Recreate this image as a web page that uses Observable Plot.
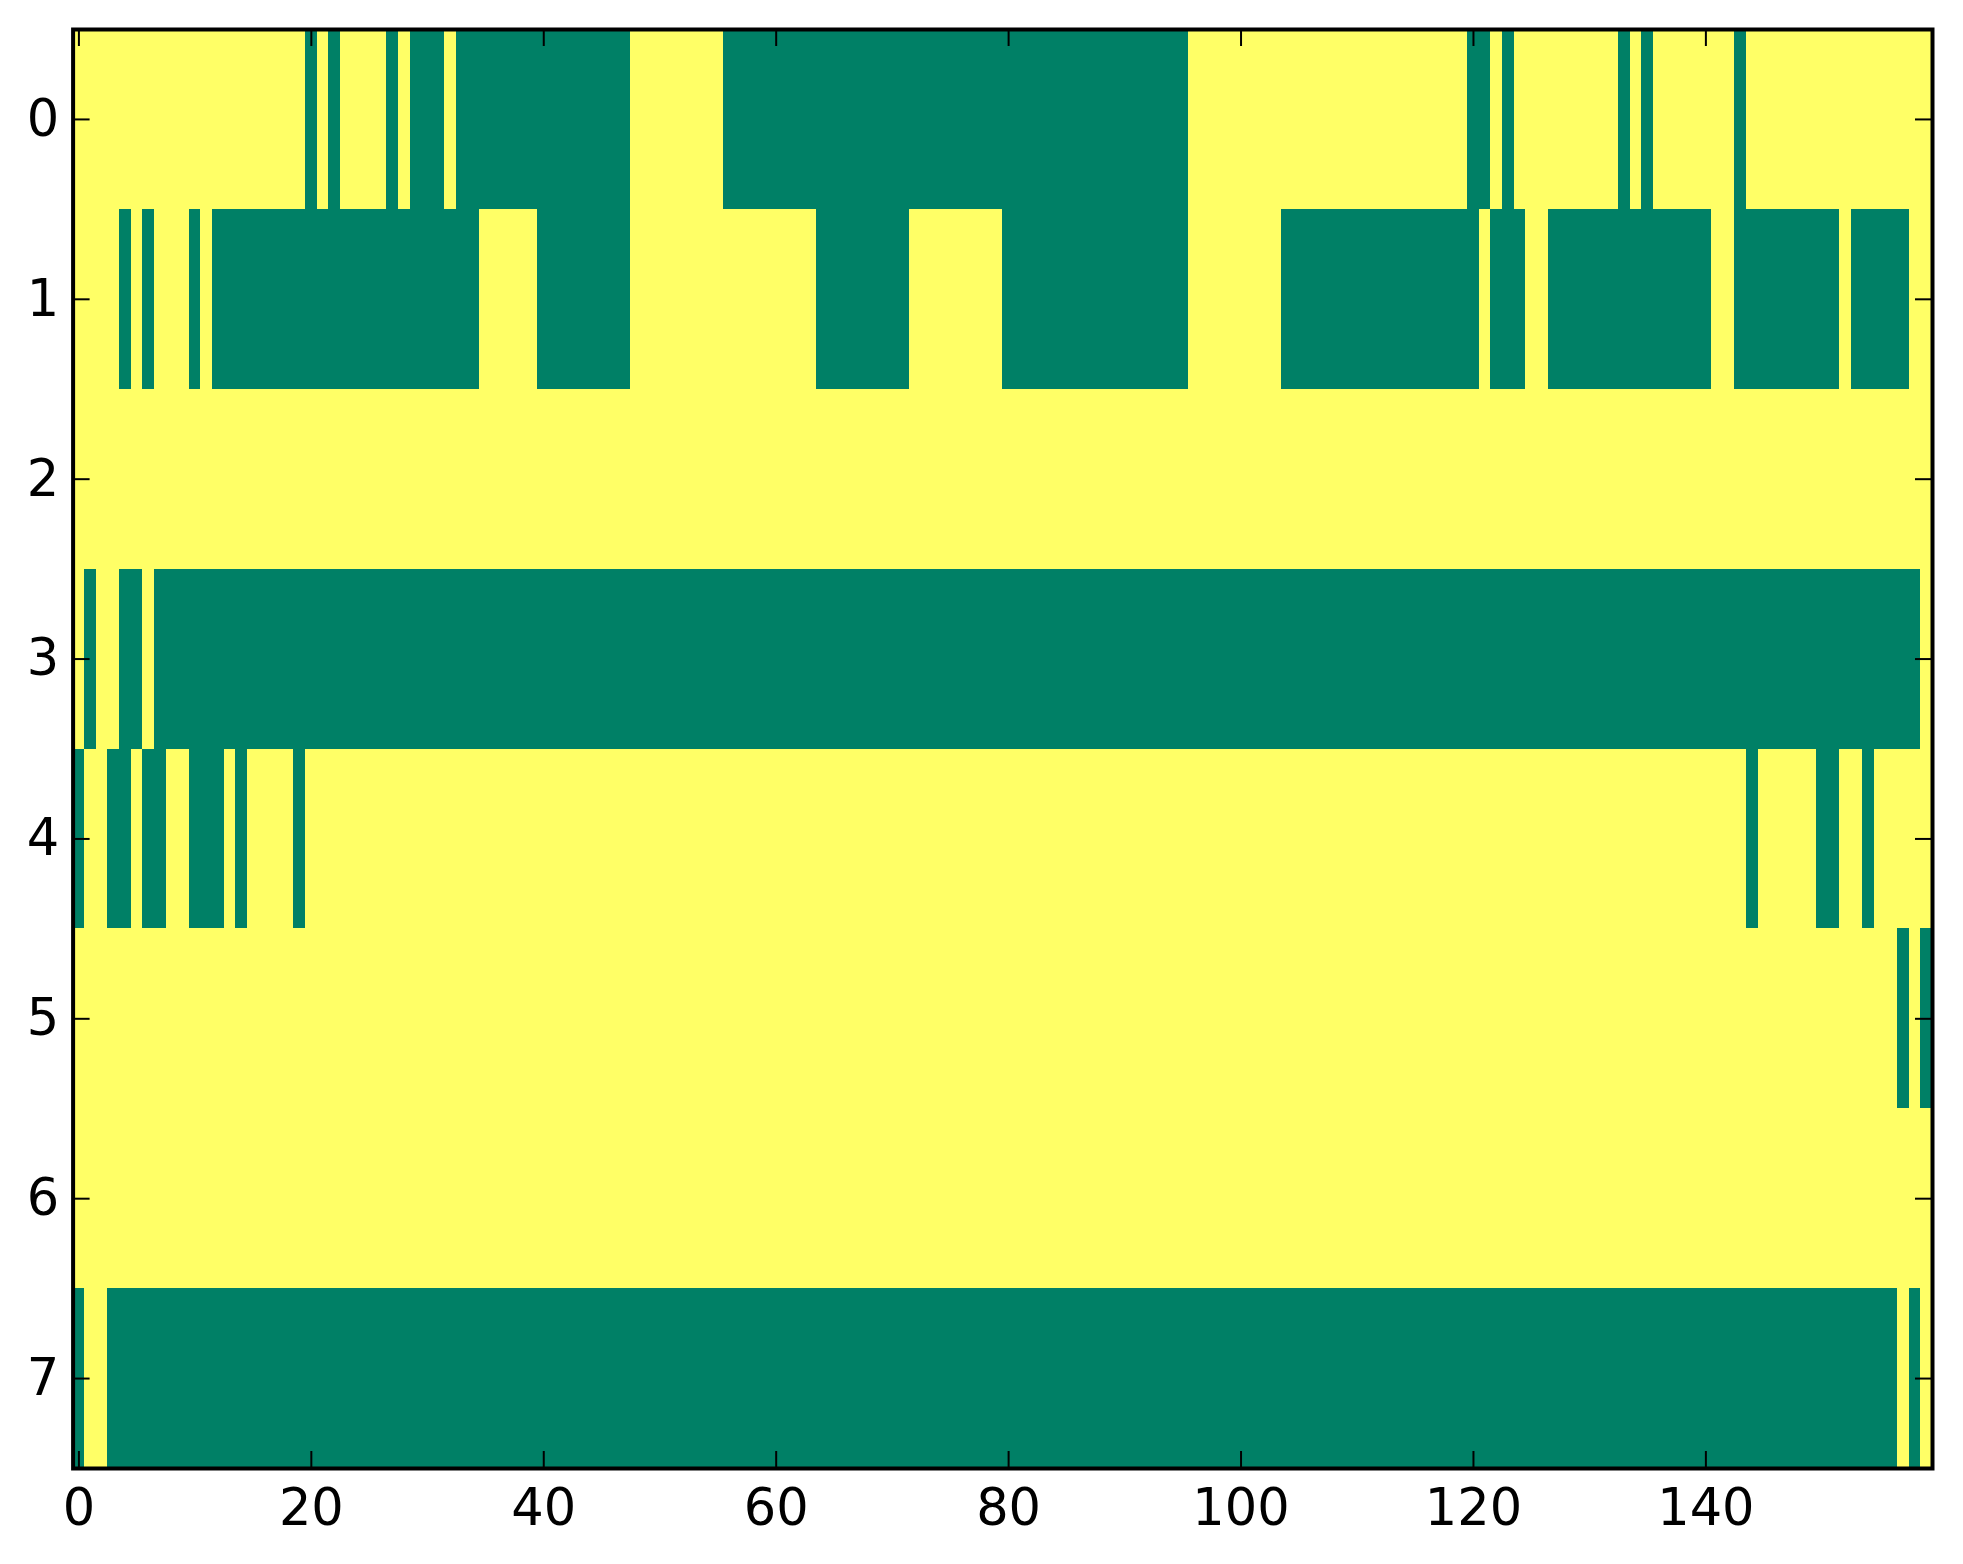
<!DOCTYPE html>
<html>
<head>
<meta charset="utf-8">
<script src="https://cdn.jsdelivr.net/npm/d3@7"></script>
<script src="https://cdn.jsdelivr.net/npm/@observablehq/plot@0.6"></script>
<style>
  html, body { margin: 0; padding: 0; background: #ffffff; }
  #chart { width: 1963px; height: 1564px; }
</style>
</head>
<body>
<div id="chart"></div>
<script>
// Matrix values: 8 rows x 160 columns, 1 = high (yellow), 0 = low (green).
// Each row written in groups of ten columns.
const row0 = "1111111111 1111111111 0101111010 0010000000 0000000011 1111110000 0000000000 0000000000 0000000000 0000001111 1111111111 1111111111 0010111111 1110101111 1110111111 1111111111";
const row1 = "1111010111 0100000000 0000000000 0000011111 0000000011 1111111111 1111000000 0011111111 0000000000 0000001111 1111000000 0000000000 0100011000 0000000000 0110000000 0010000011";
const row2 = "1111111111 1111111111 1111111111 1111111111 1111111111 1111111111 1111111111 1111111111 1111111111 1111111111 1111111111 1111111111 1111111111 1111111111 1111111111 1111111111";
const row3 = "1011001000 0000000000 0000000000 0000000000 0000000000 0000000000 0000000000 0000000000 0000000000 0000000000 0000000000 0000000000 0000000000 0000000000 0000000000 0000000001";
const row4 = "0110010011 0001011110 1111111111 1111111111 1111111111 1111111111 1111111111 1111111111 1111111111 1111111111 1111111111 1111111111 1111111111 1111111111 1111011111 0011011111";
const row5 = "1111111111 1111111111 1111111111 1111111111 1111111111 1111111111 1111111111 1111111111 1111111111 1111111111 1111111111 1111111111 1111111111 1111111111 1111111111 1111111010";
const row6 = "1111111111 1111111111 1111111111 1111111111 1111111111 1111111111 1111111111 1111111111 1111111111 1111111111 1111111111 1111111111 1111111111 1111111111 1111111111 1111111111";
const row7 = "0110000000 0000000000 0000000000 0000000000 0000000000 0000000000 0000000000 0000000000 0000000000 0000000000 0000000000 0000000000 0000000000 0000000000 0000000000 0000000101";
const rows = [row0, row1, row2, row3, row4, row5, row6, row7];

const xTicks = [0, 20, 40, 60, 80, 100, 120, 140];
const yTicks = [0, 1, 2, 3, 4, 5, 6, 7];

const lowColor = "#008066";   // summer colormap, min
const highColor = "#ffff66";  // summer colormap, max

// Build the cell table (merged into runs of equal value per row).
const runs = [];
rows.forEach((s, r) => {
  const vals = s.replace(/\s+/g, "").split("").map(Number);
  let start = 0;
  for (let c = 1; c <= vals.length; c++) {
    if (c === vals.length || vals[c] !== vals[start]) {
      runs.push({row: r, c0: start, c1: c - 1, v: vals[start]});
      start = c;
    }
  }
});
const nCols = rows[0].replace(/\s+/g, "").length;
const nRows = rows.length;

const W = 1963, H = 1564;
const mL = 72.6, mR = 31, mT = 29, mB = 96;
const plotH = H - mT - mB;
const plotW = W - mL - mR;
const tick = 17;
const font = "DejaVu Sans, Bitstream Vera Sans, sans-serif";
const fmt = d3.format("d");

const chart = Plot.plot({
  width: W,
  height: H,
  marginLeft: mL,
  marginRight: mR,
  marginTop: mT,
  marginBottom: mB,
  style: {background: "#ffffff", fontFamily: font},
  x: {domain: [-0.5, nCols - 0.5], label: null},
  y: {domain: [-0.5, nRows - 0.5], reverse: true, label: null},
  color: {type: "ordinal", domain: [0, 1], range: [lowColor, highColor]},
  marks: [
    Plot.rect(runs, {
      x1: d => d.c0 - 0.5,
      x2: d => d.c1 + 0.5,
      y1: d => d.row - 0.5,
      y2: d => d.row + 0.5,
      fill: "v",
      shapeRendering: "crispEdges"
    }),
    // inward ticks on all four sides (classic matplotlib style)
    Plot.tickX(xTicks, {x: d => d, insetTop: plotH - tick, stroke: "black", strokeWidth: 2}),
    Plot.tickX(xTicks, {x: d => d, insetBottom: plotH - tick, stroke: "black", strokeWidth: 2}),
    Plot.tickY(yTicks, {y: d => d, insetRight: plotW - tick, stroke: "black", strokeWidth: 2}),
    Plot.tickY(yTicks, {y: d => d, insetLeft: plotW - tick, stroke: "black", strokeWidth: 2}),
    Plot.frame({stroke: "black", strokeWidth: 4}),
    Plot.axisX(xTicks, {anchor: "bottom", tickSize: 0, tickPadding: 20, tickFormat: fmt, fontSize: 51, fontFamily: font, fill: "black", label: null}),
    Plot.axisY(yTicks, {anchor: "left", tickSize: 0, tickPadding: 14, tickFormat: fmt, fontSize: 51, fontFamily: font, fill: "black", label: null})
  ]
});
document.getElementById("chart").appendChild(chart);
</script>
</body>
</html>
